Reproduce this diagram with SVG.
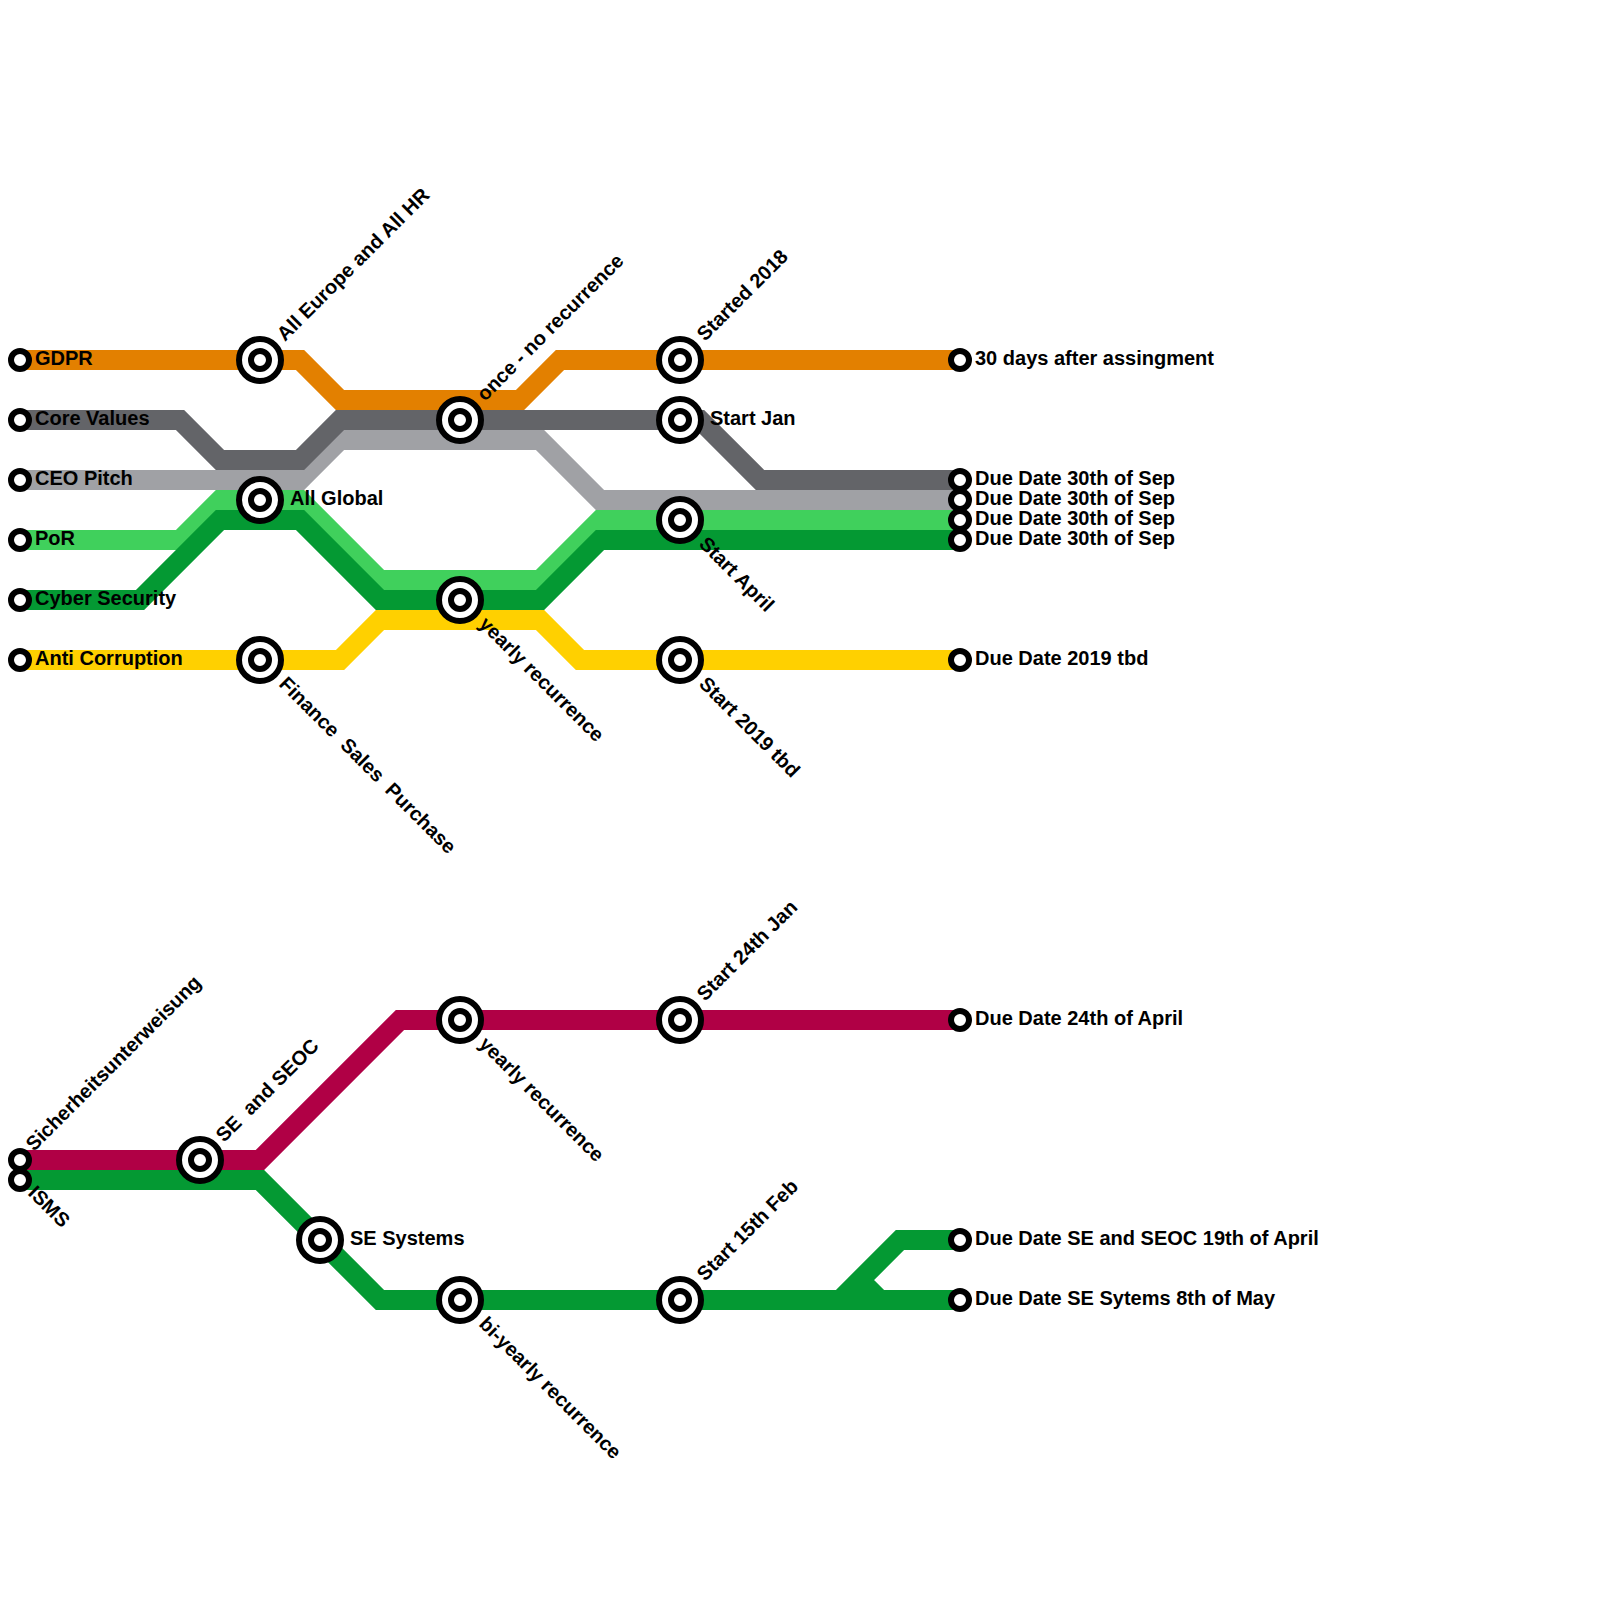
<svg xmlns="http://www.w3.org/2000/svg" width="1600" height="1600" viewBox="0 0 1600 1600">
<style>
.l{fill:none;stroke-width:20;stroke-linejoin:miter}
.t{fill:#fff;stroke:#000;stroke-width:6}
.o{fill:#fff;stroke:#000;stroke-width:6}
text{font-family:"Liberation Sans",Arial,sans-serif;font-weight:700;font-size:20px;fill:#000;white-space:pre}
</style>
<defs>
<g id="st"><circle class="o" r="21"/><circle class="t" r="9"/></g>
<circle id="te" class="t" r="9"/>
</defs>
<rect width="1600" height="1600" fill="#fff"/>
<g id="connectors">
<path class="l" stroke="#e38000" d="M20 360H300L340 400H520L560 360H960"/>
<path class="l" stroke="#a0a1a5" d="M20 480H300L340 440H540L600 500H960"/>
<path class="l" stroke="#636468" d="M20 420H180L220 460H300L340 420H700L760 480H960"/>
<path class="l" stroke="#40d05c" d="M20 540H180L220 500H300L380 580H540L600 520H960"/>
<path class="l" stroke="#049933" d="M20 600H140L220 520H300L380 600H540L600 540H960"/>
<path class="l" stroke="#ffd000" d="M20 660H340L380 620H540L580 660H960"/>
<path class="l" stroke="#049933" d="M20 1180H260L380 1300H960M840 1300L900 1240H960M860 1280L880 1300"/>
<path class="l" stroke="#b00045" d="M20 1160H260L400 1020H960"/>
</g>
<g id="n-all-europe"><use href="#st" x="260" y="360"/><text transform="translate(285 342) rotate(-45)">All Europe and All HR</text></g>
<g id="n-once"><use href="#st" x="460" y="420"/><text transform="translate(485 402) rotate(-45)">once - no recurrence</text></g>
<g id="n-started"><use href="#st" x="680" y="360"/><text transform="translate(705 342) rotate(-45)">Started 2018</text></g>
<g id="n-start-jan"><use href="#st" x="680" y="420"/><text x="710" y="425">Start Jan</text></g>
<g id="n-all-global"><use href="#st" x="260" y="500"/><text x="290" y="505">All Global</text></g>
<g id="n-start-april"><use href="#st" x="680" y="520"/><text transform="translate(698 545) rotate(45)">Start April</text></g>
<g id="n-yearly-1"><use href="#st" x="460" y="600"/><text transform="translate(478 625) rotate(45)">yearly recurrence</text></g>
<g id="n-finance"><use href="#st" x="260" y="660"/><text transform="translate(278 685) rotate(45)">Finance  Sales  Purchase</text></g>
<g id="n-start-2019"><use href="#st" x="680" y="660"/><text transform="translate(698 685) rotate(45)">Start 2019 tbd</text></g>
<g id="n-se-seoc"><use href="#st" x="200" y="1160"/><text transform="translate(224 1143) rotate(-45)">SE  and SEOC</text></g>
<g id="n-yearly-2"><use href="#st" x="460" y="1020"/><text transform="translate(478 1045) rotate(45)">yearly recurrence</text></g>
<g id="n-start-24"><use href="#st" x="680" y="1020"/><text transform="translate(705 1002) rotate(-45)">Start 24th Jan</text></g>
<g id="n-se-systems"><use href="#st" x="320" y="1240"/><text x="350" y="1245">SE Systems</text></g>
<g id="n-biyearly"><use href="#st" x="460" y="1300"/><text transform="translate(478 1325) rotate(45)">bi-yearly recurrence</text></g>
<g id="n-start-15"><use href="#st" x="680" y="1300"/><text transform="translate(705 1282) rotate(-45)">Start 15th Feb</text></g>
<g id="t-gdpr"><use href="#te" x="20" y="360"/><text x="35" y="365">GDPR</text></g>
<g id="t-core"><use href="#te" x="20" y="420"/><text x="35" y="425">Core Values</text></g>
<g id="t-ceo"><use href="#te" x="20" y="480"/><text x="35" y="485">CEO Pitch</text></g>
<g id="t-por"><use href="#te" x="20" y="540"/><text x="35" y="545">PoR</text></g>
<g id="t-cyber"><use href="#te" x="20" y="600"/><text x="35" y="605">Cyber Security</text></g>
<g id="t-anti"><use href="#te" x="20" y="660"/><text x="35" y="665">Anti Corruption</text></g>
<g id="t-sicher"><use href="#te" x="20" y="1160"/><text transform="translate(34 1152) rotate(-45)">Sicherheitsunterweisung</text></g>
<g id="t-isms"><use href="#te" x="20" y="1180"/><text transform="translate(27 1194) rotate(45)">ISMS</text></g>
<g id="e-gdpr"><use href="#te" x="960" y="360"/><text x="975" y="365">30 days after assingment</text></g>
<g id="e-core"><use href="#te" x="960" y="480"/><text x="975" y="485">Due Date 30th of Sep</text></g>
<g id="e-ceo"><use href="#te" x="960" y="500"/><text x="975" y="505">Due Date 30th of Sep</text></g>
<g id="e-por"><use href="#te" x="960" y="520"/><text x="975" y="525">Due Date 30th of Sep</text></g>
<g id="e-cyber"><use href="#te" x="960" y="540"/><text x="975" y="545">Due Date 30th of Sep</text></g>
<g id="e-anti"><use href="#te" x="960" y="660"/><text x="975" y="665">Due Date 2019 tbd</text></g>
<g id="e-sicher"><use href="#te" x="960" y="1020"/><text x="975" y="1025">Due Date 24th of April</text></g>
<g id="e-se-seoc"><use href="#te" x="960" y="1240"/><text x="975" y="1245">Due Date SE and SEOC 19th of April</text></g>
<g id="e-se-sys"><use href="#te" x="960" y="1300"/><text x="975" y="1305">Due Date SE Sytems 8th of May</text></g>
</svg>
